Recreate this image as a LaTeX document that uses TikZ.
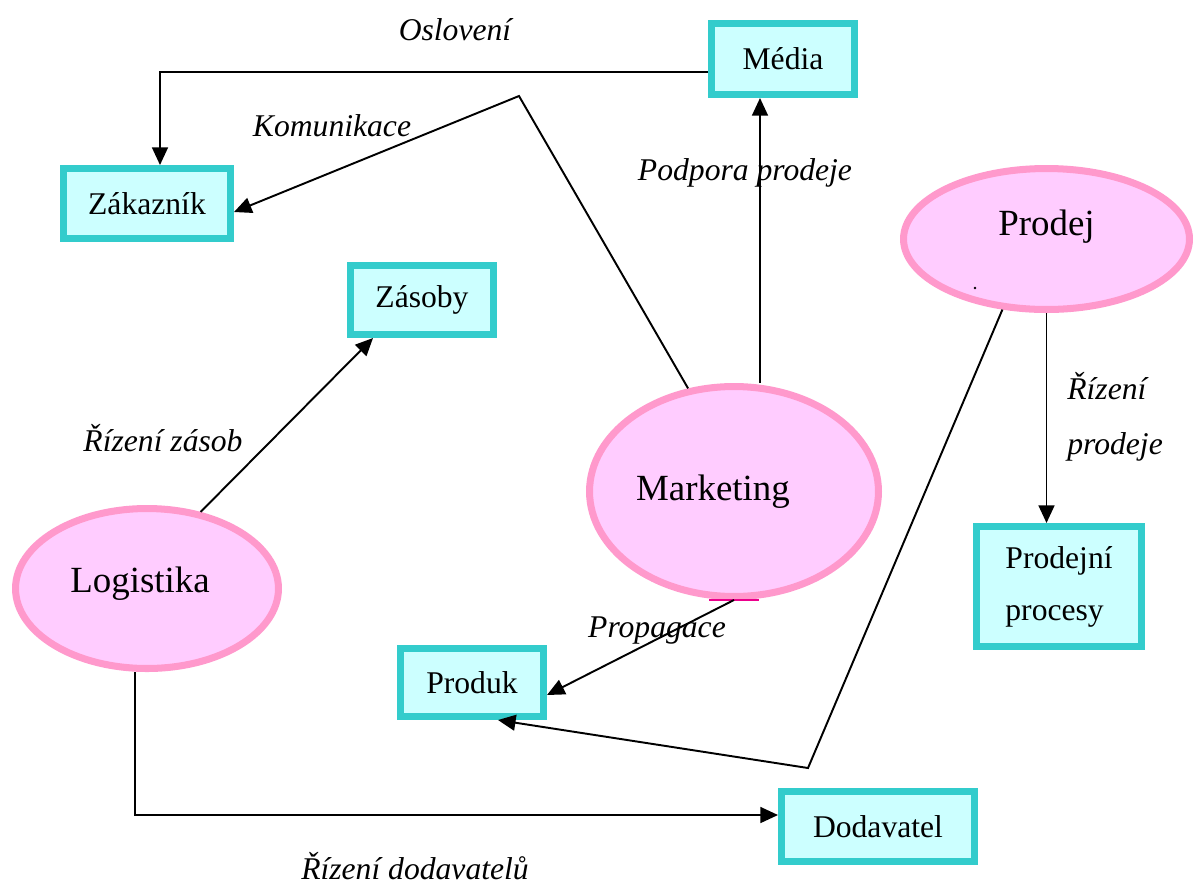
\documentclass[tikz,border=0pt]{standalone}
\usepackage{fontspec}
\setmainfont{Liberation Serif}
\usetikzlibrary{shapes.geometric,arrows.meta}
\definecolor{boxline}{HTML}{33CCCC}
\definecolor{boxfill}{HTML}{CCFFFF}
\definecolor{ovalline}{HTML}{FF99CC}
\definecolor{ovalfill}{HTML}{FFCCFF}
\begin{document}
\begin{tikzpicture}[x=0.02cm, y=-0.02cm]
            \tikzstyle{block} = [rectangle, draw=boxline, fill=boxfill, line width=4pt, inner sep=0pt, font=\fontsize{18}{22}\selectfont]
            \tikzstyle{oval} = [ellipse, draw=ovalline, fill=ovalfill, line width=4pt, inner sep=0pt]
            \tikzstyle{ovaltext} = [font=\fontsize{21}{25}\selectfont]
            \tikzstyle{arr} = [-{Triangle[length=10pt, width=9pt]}, line width=1.1pt]
            \tikzstyle{lbl} = [font=\fontsize{18}{22}\selectfont\itshape, inner sep=0pt]
            \useasboundingbox (0,0) rectangle (1196,887);

            \node [block, minimum width=2.86cm, minimum height=1.42cm] (media) at (783,59) {Média};
            \node [block, minimum width=3.34cm, minimum height=1.40cm] (zakaznik) at (147,203.5) {Zákazník};
            \node [block, minimum width=2.86cm, minimum height=1.38cm] (zasoby) at (422,300) {Zásoby};
            \node [block, minimum width=2.86cm, minimum height=1.36cm] (produk) at (472,682.5) {Produk};
            \node [block, minimum width=3.86cm, minimum height=1.40cm] (dodavatel) at (878,826.5) {Dodavatel};
            \node [block, minimum width=3.30cm, minimum height=2.40cm, align=left, font=\fontsize{18}{29.6}\selectfont] (procesy) at (1059,586.5) {Prodejní\\procesy};

            \node [oval, minimum width=5.72cm, minimum height=2.82cm, label={[ovaltext, yshift=0.24cm]center:Prodej}] (prodej) at (1046.5,239) {};
            \node [oval, minimum width=5.78cm, minimum height=4.20cm, label={[ovaltext, xshift=-0.42cm]center:Marketing}] (marketing) at (734,491.5) {};
            \node [oval, minimum width=5.26cm, minimum height=3.20cm, label={[ovaltext, xshift=-0.14cm, yshift=0.1cm]center:Logistika}] (logistika) at (147,588.5) {};
            \draw [magenta, line width=1pt] ([xshift=-0.5cm]marketing.south) -- ([xshift=0.5cm]marketing.south);
            \fill (975,288) circle (0.8pt);

            \coordinate (kbend) at (519,96);
            \coordinate (pbend) at (808,768);

            \draw[arr] ([yshift=-0.26cm]media.west) -| ([xshift=0.26cm]zakaznik.north);
            \draw[arr] (marketing.114) -- (kbend) -- ([yshift=-0.17cm]zakaznik.east);
            \draw[arr] ([xshift=0.52cm]marketing.north) -- ([xshift=0.52cm]marketing.north |- media.south);
            \draw[arr] (logistika.55) -- ([xshift=-0.98cm]zasoby.south);
            \draw[arr] ([xshift=-0.24cm]logistika.south) |- ([yshift=0.23cm]dodavatel.west);
            \draw[arr] (marketing.south) -- ([yshift=-0.25cm]produk.east);
            \draw[arr] (prodej.238) -- (pbend) -- ([xshift=0.52cm]produk.south);
            \draw[arr] (prodej.south) -- (prodej.south |- procesy.north);

            \node [lbl] (oslo) at (455,30) {Oslovení};
            \node [lbl] (komu) at (332,126) {Komunikace};
            \node [lbl] (podp) at (745,173) {Podpora prodeje};
            \node [lbl] (rzas) at (163,438) {Řízení zásob};
            \node [lbl] (rdod) at (415,866) {Řízení dodavatelů};
            \node [lbl] (prop) at (657,630) {Propagace};
            \node [lbl, anchor=west, align=left, font=\fontsize{18}{31.3}\selectfont\itshape] (rpro) at (1067,417) {Řízení\\prodeje};
\end{tikzpicture}
\end{document}
